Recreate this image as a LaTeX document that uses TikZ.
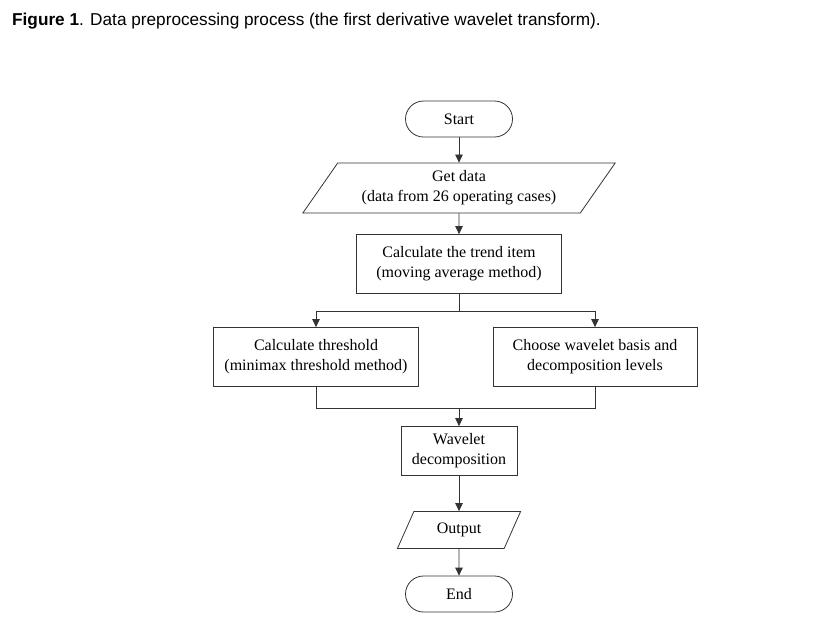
\documentclass[tikz,border=0pt]{standalone}
\usepackage{fontspec}
\setmainfont{Liberation Serif}
\newfontfamily\capfont{Liberation Sans}
\usetikzlibrary{shapes.geometric,arrows.meta}

\tikzset{
  x=1pt, y=-1pt,
  line/.style={draw=black!80, line width=0.8pt},
  arr/.style={line, -{Triangle[length=8pt,width=7.5pt]}},
  term/.style={line, rectangle, rounded corners=18pt, minimum width=107pt, minimum height=36pt, font=\fontsize{16}{20}\selectfont},
  procbox/.style={line, rectangle, align=center, inner sep=0pt, font=\fontsize{16}{20}\selectfont},
  iobox/.style={line, trapezium, trapezium stretches=true, align=center, inner sep=0pt, font=\fontsize{16}{20}\selectfont}
}

\begin{document}
\begin{tikzpicture}
 \useasboundingbox[fill=white] (0,0) rectangle (835,638);
 \node[anchor=base west, inner sep=0pt, font=\capfont\fontsize{17.2}{19}\selectfont] (cap) at (12, 25)
   {\textbf{Figure 1}. Data preprocessing process (the first derivative wavelet transform).};

 \node[term] (start) at (459, 119) {Start};
 \node[iobox, trapezium left angle=51, trapezium right angle=129, minimum width=313pt, minimum height=50pt] (data) at (459, 188)
   {Get data\\(data from 26 operating cases)};
 \node[procbox, minimum width=205pt, minimum height=59pt] (trend) at (459, 264)
   {Calculate the trend item\\(moving average method)};
 \node[procbox, minimum width=205pt, minimum height=59pt] (thr) at (316, 357)
   {Calculate threshold\\(minimax threshold method)};
 \node[procbox, minimum width=204pt, minimum height=59pt] (basis) at (595, 357)
   {Choose wavelet basis and\\decomposition levels};
 \node[procbox, minimum width=116pt, minimum height=49pt] (wav) at (459, 451)
   {Wavelet\\decomposition};
 \node[iobox, trapezium left angle=60, trapezium right angle=120, minimum width=124pt, minimum height=37pt] (out) at (459, 530)
   {Output};
 \node[term] (end) at (459, 594) {End};

 \coordinate (split) at (459, 311);
 \coordinate (join) at (459, 408);

 \draw[arr] (start) -- (data);
 \draw[arr] (data) -- (trend);
 \draw[line] (trend) -- (split);
 \draw[arr] (split) -| (thr);
 \draw[arr] (split) -| (basis);
 \draw[line] (thr) |- (join);
 \draw[line] (basis) |- (join);
 \draw[arr] (join) -- (wav);
 \draw[arr] (wav) -- (out);
 \draw[arr] (out) -- (end);
\end{tikzpicture}
\end{document}
